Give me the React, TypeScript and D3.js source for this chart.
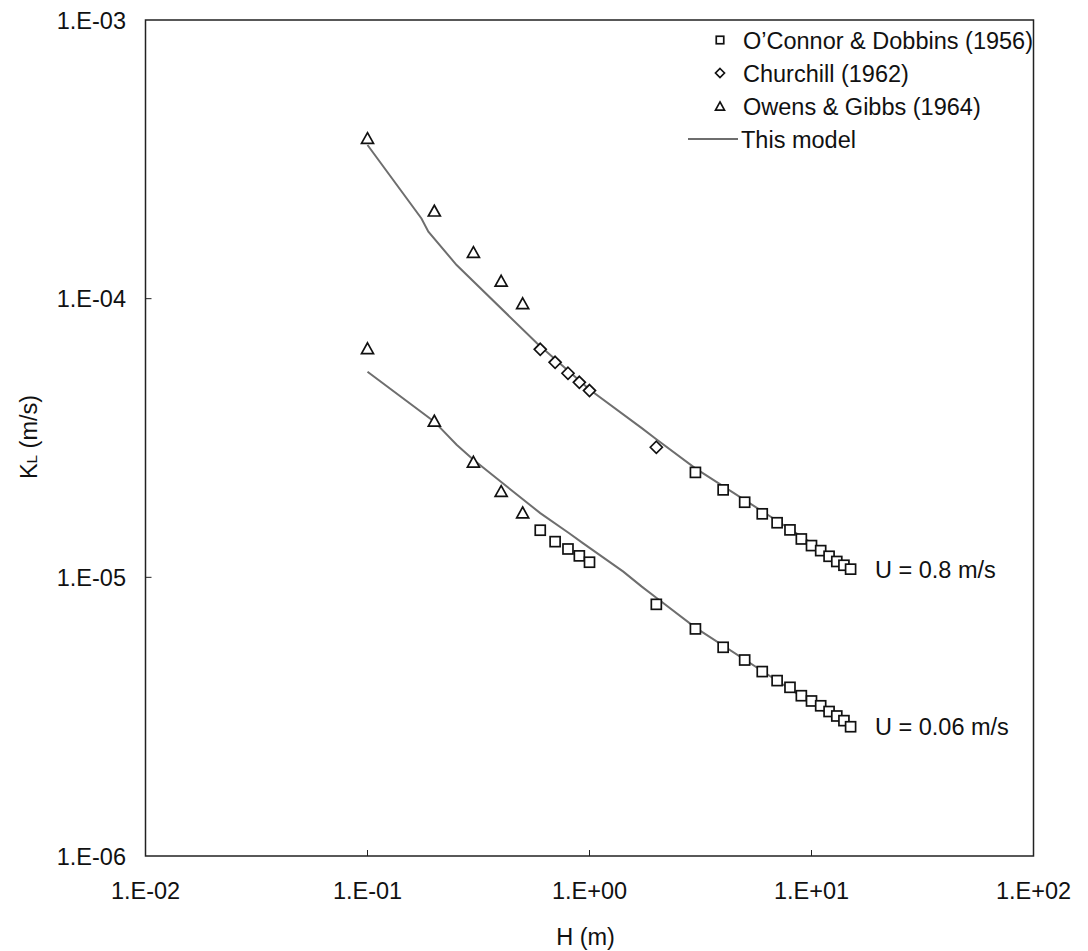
import React from "react";
import * as d3 from "d3";

// ---- data ----
const xTickValues = [0.01, 0.1, 1, 10, 100];
const xTickLabels = ["1.E-02", "1.E-01", "1.E+00", "1.E+01", "1.E+02"];
const yTickValues = [1e-6, 1e-5, 1e-4, 1e-3];
const yTickLabels = ["1.E-06", "1.E-05", "1.E-04", "1.E-03"];

// O'Connor & Dobbins (1956) - squares
const ocH_low = [0.6, 0.7, 0.8, 0.9, 1, 2, 3, 4, 5, 6, 7, 8, 9, 10, 11, 12, 13, 14, 15];
const ocK_low = [1.476e-5, 1.343e-5, 1.264e-5, 1.194e-5, 1.133e-5, 8.0e-6, 6.53e-6, 5.61e-6, 5.05e-6, 4.59e-6, 4.26e-6, 4.03e-6, 3.76e-6, 3.6e-6, 3.46e-6, 3.3e-6, 3.18e-6, 3.06e-6, 2.91e-6];
const ocH_high = [3, 4, 5, 6, 7, 8, 9, 10, 11, 12, 13, 14, 15];
const ocK_high = [2.38e-5, 2.06e-5, 1.86e-5, 1.69e-5, 1.57e-5, 1.48e-5, 1.373e-5, 1.3e-5, 1.247e-5, 1.19e-5, 1.14e-5, 1.105e-5, 1.07e-5];

// Churchill (1962) - diamonds
const chH = [0.6, 0.7, 0.8, 0.9, 1, 2];
const chK = [6.58e-5, 5.91e-5, 5.4e-5, 5.01e-5, 4.68e-5, 2.93e-5];

// Owens & Gibbs (1964) - triangles
const ogH = [0.1, 0.2, 0.3, 0.4, 0.5];
const ogK_high = [3.77e-4, 2.07e-4, 1.47e-4, 1.16e-4, 9.63e-5];
const ogK_low = [6.64e-5, 3.65e-5, 2.6e-5, 2.04e-5, 1.71e-5];

// This model - lines
const modelH_high = [0.1, 0.175, 0.188, 0.252, 0.58, 1.0, 1.72, 2.0, 3.0, 15];
const modelK_high = [3.56e-4, 1.94e-4, 1.74e-4, 1.32e-4, 6.92e-5, 4.72e-5, 3.43e-5, 3.13e-5, 2.46e-5, 1.08e-5];
const modelH_low = [0.1, 0.2, 0.252, 0.3, 0.6, 0.81, 0.93, 1.42, 1.72, 2.0, 3.0, 15];
const modelK_low = [5.47e-5, 3.62e-5, 2.99e-5, 2.64e-5, 1.7e-5, 1.44e-5, 1.33e-5, 1.048e-5, 9.26e-6, 8.45e-6, 6.6e-6, 2.87e-6];

const legendLabels = ["O\u2019Connor & Dobbins (1956)", "Churchill (1962)", "Owens & Gibbs (1964)", "This model"];
const curveLabels = ["U = 0.8 m/s", "U = 0.06 m/s"];

const FONT = "'Liberation Sans', Arial, sans-serif";
const LINE_COLOR = "#6e6e6e";

function Square({ x, y, s }: { x: number; y: number; s: number }) {
  return <rect x={x - s / 2} y={y - s / 2} width={s} height={s} fill="white" stroke="#111" strokeWidth={1.7} />;
}
function Diamond({ x, y, s }: { x: number; y: number; s: number }) {
  const r = s / 2;
  return <path d={`M${x},${y - r}L${x + r},${y}L${x},${y + r}L${x - r},${y}Z`} fill="white" stroke="#111" strokeWidth={1.7} />;
}
function Triangle({ x, y, s }: { x: number; y: number; s: number }) {
  const h = s * 0.9;
  return <path d={`M${x},${y - h / 2}L${x + s / 2},${y + h / 2}L${x - s / 2},${y + h / 2}Z`} fill="white" stroke="#111" strokeWidth={1.7} />;
}

export default function App() {
  const W = 1088, H = 951;
  const left = 145.5, right = 1033.5, top = 20, bottom = 856;
  const x = d3.scaleLog().domain([0.01, 100]).range([left, right]);
  const y = d3.scaleLog().domain([1e-6, 1e-3]).range([bottom, top]);
  const line = d3.line<[number, number]>().x((d) => x(d[0])).y((d) => y(d[1]));
  const hi = modelH_high.map((h, i) => [h, modelK_high[i]] as [number, number]);
  const lo = modelH_low.map((h, i) => [h, modelK_low[i]] as [number, number]);
  const fs = 23.5;

  return (
    <svg width={W} height={H} style={{ position: "absolute", left: 0, top: 0 }} fontFamily={FONT}>
      <rect x={0} y={0} width={W} height={H} fill="white" />
      {/* frame */}
      <rect x={left} y={top} width={right - left} height={bottom - top} fill="none" stroke="#222" strokeWidth={1.5} />
      {/* x ticks */}
      {xTickValues.map((v, i) => (
        <g key={"xt" + i}>
          {i > 0 && i < xTickValues.length - 1 && <line x1={x(v)} x2={x(v)} y1={bottom} y2={bottom - 6} stroke="#222" strokeWidth={1} />}
          <text x={x(v)} y={bottom + 43} textAnchor="middle" fontSize={fs} fill="#111">{xTickLabels[i]}</text>
        </g>
      ))}
      {/* y ticks */}
      {yTickValues.map((v, i) => (
        <g key={"yt" + i}>
          {i > 0 && i < yTickValues.length - 1 && <line x1={left} x2={left + 6} y1={y(v)} y2={y(v)} stroke="#222" strokeWidth={1} />}
          <text x={126} y={y(v) + 8.5} textAnchor="end" fontSize={fs} fill="#111">{yTickLabels[i]}</text>
        </g>
      ))}
      {/* axis titles */}
      <text x={(left + right) / 2 - 4} y={945} textAnchor="middle" fontSize={fs} fill="#111">H (m)</text>
      <text transform={`translate(37,437) rotate(-90)`} textAnchor="middle" fontSize={fs} fill="#111">
        K<tspan fontSize={fs * 0.65}>L</tspan> (m/s)
      </text>
      {/* model lines */}
      <path d={line(hi) || ""} fill="none" stroke={LINE_COLOR} strokeWidth={2} />
      <path d={line(lo) || ""} fill="none" stroke={LINE_COLOR} strokeWidth={2} />
      {/* markers */}
      {ogH.map((h, i) => <Triangle key={"th" + i} x={x(h)} y={y(ogK_high[i])} s={12} />)}
      {ogH.map((h, i) => <Triangle key={"tl" + i} x={x(h)} y={y(ogK_low[i])} s={12} />)}
      {chH.map((h, i) => <Diamond key={"d" + i} x={x(h)} y={y(chK[i])} s={12} />)}
      {ocH_high.map((h, i) => <Square key={"sh" + i} x={x(h)} y={y(ocK_high[i])} s={10} />)}
      {ocH_low.map((h, i) => <Square key={"sl" + i} x={x(h)} y={y(ocK_low[i])} s={10} />)}
      {/* curve labels */}
      <text x={875} y={y(ocK_high[ocK_high.length - 1]) + 8.5} fontSize={fs} fill="#111">{curveLabels[0]}</text>
      <text x={875} y={y(ocK_low[ocK_low.length - 1]) + 8.5} fontSize={fs} fill="#111">{curveLabels[1]}</text>
      {/* legend */}
      <g>
        <Square x={720} y={40} s={7.5} />
        <text x={743} y={48.5} fontSize={fs} fill="#111">{legendLabels[0]}</text>
        <Diamond x={720} y={73} s={9} />
        <text x={743} y={81.5} fontSize={fs} fill="#111">{legendLabels[1]}</text>
        <Triangle x={720} y={106} s={9} />
        <text x={743} y={114.5} fontSize={fs} fill="#111">{legendLabels[2]}</text>
        <line x1={688} x2={738} y1={139} y2={139} stroke={LINE_COLOR} strokeWidth={2} />
        <text x={741} y={147.5} fontSize={fs} fill="#111">{legendLabels[3]}</text>
      </g>
    </svg>
  );
}
